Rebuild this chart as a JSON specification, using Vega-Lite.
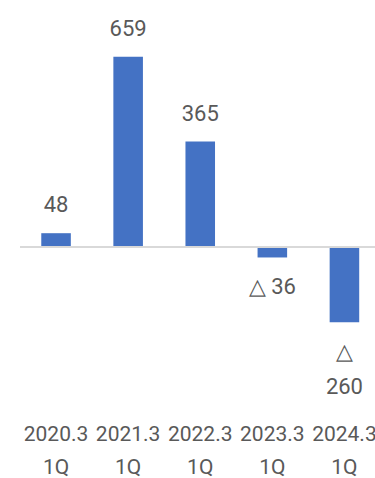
{
  "$schema": "https://vega.github.io/schema/vega-lite/v6.json",
  "width": 355,
  "height": 406,
  "autosize": {"type": "none"},
  "padding": {"left": 20, "top": 0, "right": 0, "bottom": 72},
  "background": "white",
  "config": {
    "view": {"stroke": null},
    "font": "Roboto, sans-serif"
  },
  "data": {
    "values": [
      {"period": "2020.3 1Q", "value": 48, "label": "48"},
      {"period": "2021.3 1Q", "value": 659, "label": "659"},
      {"period": "2022.3 1Q", "value": 365, "label": "365"},
      {"period": "2023.3 1Q", "value": -36, "label": "△ 36"},
      {"period": "2024.3 1Q", "value": -260, "label": "△\n260"}
    ]
  },
  "encoding": {
    "x": {
      "field": "period",
      "type": "nominal",
      "sort": null,
      "scale": {"paddingInner": 0.59, "paddingOuter": 0.257, "align": 0.574},
      "axis": {
        "title": null,
        "orient": "bottom",
        "domain": false,
        "ticks": false,
        "labelAngle": 0,
        "labelExpr": "split(datum.label, ' ')",
        "labelFont": "Roboto",
        "labelFontSize": 21,
        "labelColor": "#595959",
        "labelPadding": 17,
        "labelLineHeight": 33
      }
    },
    "y": {
      "field": "value",
      "type": "quantitative",
      "scale": {"domain": [-550, 855], "nice": false, "zero": true},
      "axis": null
    }
  },
  "layer": [
    {"mark": {"type": "bar", "color": "#4472C4"}},
    {
      "mark": {"type": "rule", "color": "#d9d9d9", "strokeWidth": 1.5},
      "encoding": {"x": null, "y": {"datum": 0}}
    },
    {
      "transform": [{"filter": "datum.value >= 0"}],
      "mark": {"type": "text", "fontSize": 22, "color": "#595959", "baseline": "alphabetic", "dy": -21},
      "encoding": {"text": {"field": "label"}}
    },
    {
      "transform": [{"filter": "datum.value < 0"}],
      "mark": {"type": "text", "fontSize": 22, "color": "#595959", "baseline": "alphabetic", "dy": 37, "lineBreak": "\n", "lineHeight": 35},
      "encoding": {"text": {"field": "label"}}
    }
  ]
}
